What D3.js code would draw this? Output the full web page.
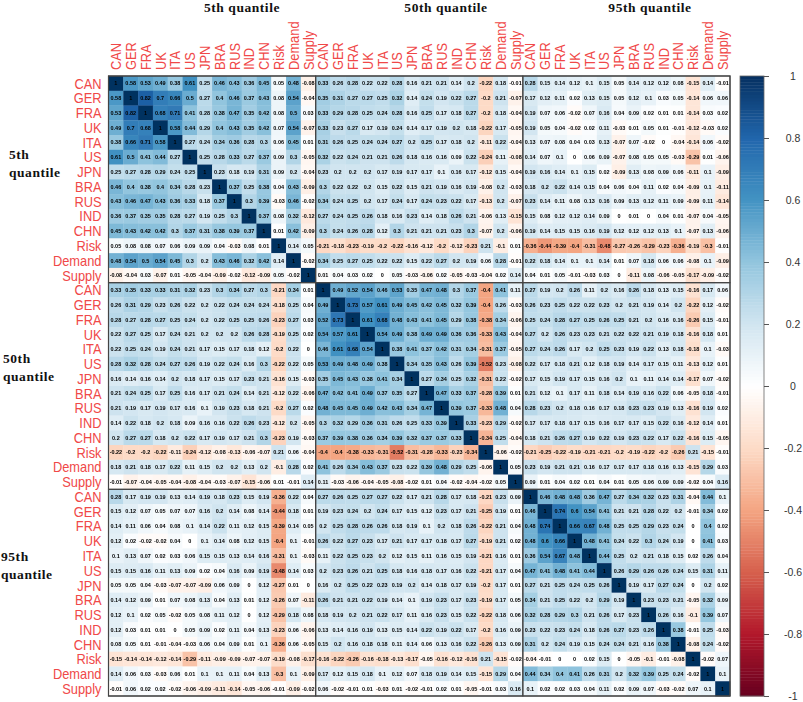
<!DOCTYPE html>
<html><head><meta charset="utf-8">
<script src="https://cdn.jsdelivr.net/npm/d3@7"></script>
<style>html,body{margin:0;padding:0;background:#fff}svg{display:block}</style>
</head><body><svg id="c" width="803" height="702"></svg>
<script>
const names=["CAN","GER","FRA","UK","ITA","US","JPN","BRA","RUS","IND","CHN","Risk","Demand","Supply"];
const quantiles=["5th","50th","95th"];
const legendTicks=[1,.8,.6,.4,.2,0,-.2,-.4,-.6,-.8,-1];
const paletteStops=["#67001F","#B2182B","#D6604D","#F4A582","#FDDBC7","#FFFFFF","#D1E5F0","#92C5DE","#4393C3","#2166AC","#053061"];
const b5_5=[
[1,.58,.53,.49,.38,.61,.25,.46,.43,.36,.45,.05,.48,-.08],
[.58,1,.82,.7,.66,.5,.27,.4,.46,.37,.43,.08,.54,-.04],
[.53,.82,1,.68,.71,.41,.28,.38,.47,.35,.42,.08,.5,.03],
[.49,.7,.68,1,.58,.44,.29,.4,.43,.35,.42,.07,.54,-.07],
[.38,.66,.71,.58,1,.27,.24,.34,.36,.28,.3,.06,.45,.01],
[.61,.5,.41,.44,.27,1,.25,.28,.33,.27,.37,.09,.3,-.05],
[.25,.27,.28,.29,.24,.25,1,.23,.18,.19,.31,.09,.2,-.04],
[.46,.4,.38,.4,.34,.28,.23,1,.37,.25,.38,.04,.43,-.09],
[.43,.46,.47,.43,.36,.33,.18,.37,1,.3,.39,-.03,.46,-.02],
[.36,.37,.35,.35,.28,.27,.19,.25,.3,1,.37,.08,.32,-.12],
[.45,.43,.42,.42,.3,.37,.31,.38,.39,.37,1,.01,.42,-.09],
[.05,.08,.08,.07,.06,.09,.09,.04,-.03,.08,.01,1,.14,.05],
[.48,.54,.5,.54,.45,.3,.2,.43,.46,.32,.42,.14,1,-.02],
[-.08,-.04,.03,-.07,.01,-.05,-.04,-.09,-.02,-.12,-.09,.05,-.02,1]];
const b5_50=[
[.33,.26,.28,.22,.22,.28,.16,.21,.21,.14,.2,-.22,.18,-.01],
[.35,.31,.27,.27,.25,.32,.14,.24,.19,.22,.27,-.2,.21,-.07],
[.33,.29,.28,.25,.24,.28,.16,.25,.17,.18,.27,-.2,.18,-.04],
[.33,.23,.27,.17,.19,.24,.14,.17,.19,.2,.18,-.22,.17,-.05],
[.31,.26,.25,.24,.24,.27,.2,.25,.17,.18,.2,-.11,.22,-.04],
[.32,.22,.24,.21,.21,.26,.18,.16,.16,.09,.22,-.24,.11,-.08],
[.23,.2,.2,.2,.17,.19,.17,.17,.1,.16,.17,-.12,.15,-.04],
[.3,.22,.22,.2,.15,.22,.15,.21,.19,.16,.19,-.08,.2,-.03],
[.34,.24,.25,.2,.17,.24,.17,.24,.23,.22,.17,-.13,.2,-.07],
[.27,.24,.25,.26,.18,.16,.23,.14,.18,.26,.21,-.06,.13,-.15],
[.3,.24,.26,.28,.12,.3,.21,.21,.21,.23,.3,-.07,.2,-.06],
[-.21,-.18,-.23,-.19,-.2,-.22,-.16,-.12,-.2,-.12,-.23,.21,-.1,.01],
[.34,.25,.27,.25,.22,.22,.15,.22,.27,.2,.19,.06,.28,-.01],
[.01,.04,.03,.02,0,.05,-.03,-.06,.02,-.05,-.03,-.04,.02,.14]];
const b5_95=[
[.28,.15,.14,.12,.1,.15,.05,.14,.12,.12,.08,-.15,.14,-.01],
[.17,.12,.11,.02,.13,.15,.05,.12,.1,.03,.05,-.14,.06,.06],
[.19,.07,.06,-.02,.07,.16,.04,.09,.02,.01,.01,-.14,.03,.02],
[.19,.05,.04,-.02,.02,.11,-.03,.01,.05,.01,-.01,-.12,-.03,.02],
[.13,.07,.08,.04,.03,.13,-.07,.07,-.02,0,-.04,-.14,.06,-.02],
[.14,.07,.1,0,.06,.09,-.07,.08,.05,.05,-.03,-.29,.01,-.06],
[.19,.16,.14,.1,.15,.02,-.09,.13,.08,.09,.06,-.11,.1,-.09],
[.18,.2,.22,.14,.15,.04,.06,.04,.11,.02,.04,-.09,.1,-.11],
[.23,.14,.11,.08,.13,.16,.09,.13,.12,.11,.09,-.09,.11,-.14],
[.15,.08,.12,.12,.14,.09,0,.01,0,.04,.01,-.07,.04,-.05],
[.19,.14,.15,.15,.16,.19,.12,.12,.12,.13,.1,-.07,.13,-.06],
[-.36,-.44,-.39,-.4,-.31,-.48,-.27,-.26,-.29,-.23,-.36,-.19,-.3,-.01],
[.22,.18,.14,.1,.1,.14,.01,.07,.18,.06,.06,-.08,.1,-.09],
[.04,.01,.05,-.01,-.03,.03,0,-.11,.08,-.06,-.05,-.17,-.09,-.02]];
const b50_50=[
[1,.49,.52,.54,.46,.53,.35,.47,.48,.3,.37,-.4,.41,.11],
[.49,1,.73,.57,.61,.49,.45,.42,.45,.32,.39,-.4,.26,-.03],
[.52,.73,1,.61,.68,.48,.43,.41,.45,.29,.38,-.38,.34,-.06],
[.54,.57,.61,1,.54,.49,.38,.49,.49,.36,.36,-.33,.43,-.04],
[.46,.61,.68,.54,1,.38,.41,.37,.42,.31,.34,-.31,.37,-.05],
[.53,.49,.48,.49,.38,1,.34,.35,.43,.26,.39,-.52,.23,-.08],
[.35,.45,.43,.38,.41,.34,1,.27,.34,.25,.32,-.31,.22,-.02],
[.47,.42,.41,.49,.37,.35,.27,1,.47,.33,.37,-.28,.39,.01],
[.48,.45,.45,.49,.42,.43,.34,.47,1,.39,.37,-.33,.48,.04],
[.3,.32,.29,.36,.31,.26,.25,.33,.39,1,.33,-.23,.29,-.02],
[.37,.39,.38,.36,.34,.39,.32,.37,.37,.33,1,-.34,.25,-.04],
[-.4,-.4,-.38,-.33,-.31,-.52,-.31,-.28,-.33,-.23,-.34,1,-.06,-.02],
[.41,.26,.34,.43,.37,.23,.22,.39,.48,.29,.25,-.06,1,.05],
[.11,-.03,-.06,-.04,-.05,-.08,-.02,.01,.04,-.02,-.04,-.02,.05,1]];
const b50_95=[
[.27,.19,.2,.26,.11,.2,.16,.26,.18,.13,.15,-.16,.17,.06],
[.26,.23,.25,.22,.22,.23,.2,.21,.19,.14,.2,-.22,.12,-.02],
[.25,.24,.28,.27,.25,.26,.25,.21,.2,.16,.16,-.26,.15,-.01],
[.27,.2,.26,.23,.23,.21,.22,.22,.21,.19,.18,-.16,.18,.01],
[.27,.24,.26,.17,.2,.25,.23,.19,.22,.13,.18,-.18,.1,-.03],
[.22,.17,.18,.21,.12,.18,.19,.14,.17,.15,.11,-.13,.12,.01],
[.17,.15,.19,.17,.15,.16,.2,.1,.11,.14,.14,-.17,.07,-.02],
[.21,.12,.1,.17,.11,.18,.14,.19,.16,.22,.06,-.05,.18,-.01],
[.28,.23,.2,.18,.16,.17,.18,.23,.23,.19,.13,-.16,.19,.02],
[.17,.17,.18,.17,.15,.16,.17,.17,.15,.22,.16,-.12,.14,.01],
[.18,.21,.26,.27,.19,.22,.19,.23,.22,.17,.22,-.16,.15,-.05],
[-.21,-.25,-.22,-.19,-.21,-.21,-.2,-.19,-.22,-.2,-.26,.21,-.15,-.01],
[.23,.19,.21,.21,.16,.17,.17,.17,.18,.16,.13,-.15,.29,.03],
[.09,.01,.04,.02,.01,.04,.01,.05,.06,.09,.09,-.02,.04,.16]];
const b95_95=[
[1,.46,.48,.48,.36,.47,.27,.34,.32,.23,.31,-.04,.44,.1],
[.46,1,.74,.6,.54,.41,.21,.21,.28,.22,.2,-.01,.34,.02],
[.48,.74,1,.66,.67,.48,.25,.25,.29,.23,.24,0,.4,.02],
[.48,.6,.66,1,.48,.41,.24,.22,.3,.24,.19,0,.41,.03],
[.36,.54,.67,.48,1,.44,.25,.2,.21,.18,.15,.02,.26,.04],
[.47,.41,.48,.41,.44,1,.26,.29,.26,.26,.24,.15,.31,.11],
[.27,.21,.25,.24,.25,.26,1,.19,.17,.27,.24,0,.2,.02],
[.34,.21,.25,.22,.2,.29,.19,1,.23,.23,.21,-.05,.32,.09],
[.32,.28,.29,.3,.21,.26,.17,.23,1,.26,.16,-.1,.39,.07],
[.23,.22,.23,.24,.18,.26,.27,.23,.26,1,.38,-.01,.25,-.03],
[.31,.2,.24,.19,.15,.24,.24,.21,.16,.38,1,-.08,.24,-.02],
[-.04,-.01,0,0,.02,.15,0,-.05,-.1,-.01,-.08,1,-.02,.07],
[.44,.34,.4,.41,.26,.31,.2,.32,.39,.25,.24,-.02,1,.1],
[.1,.02,.02,.03,.04,.11,.02,.09,.07,-.03,-.02,.07,.1,1]];

const t=d3.transpose;
const matrix=[
 ...b5_5.map((r,i)=>[...r,...b5_50[i],...b5_95[i]]),
 ...t(b5_50).map((r,i)=>[...r,...b50_50[i],...b50_95[i]]),
 ...t(b5_95).map((r,i)=>[...r,...t(b50_95)[i],...b95_95[i]])
];
const labels=[...names,...names,...names];
const idx=d3.range(labels.length);
const L=108.5,T=76,R=730,B=696;
const x=d3.scaleBand().domain(idx).range([L,R]);
const y=d3.scaleBand().domain(idx).range([T,B]);
const color=d3.scaleLinear().domain(d3.range(-1,1.0001,.2)).range(paletteStops).interpolate(d3.interpolateRgb);
const svg=d3.select("#c");
const defs=svg.append("defs");
[["soft",.7],["softText",.22]].forEach(([id,s])=>defs.append("filter").attr("id",id)
  .attr("filterUnits","userSpaceOnUse").attr("x",0).attr("y",0).attr("width",803).attr("height",702)
  .append("feGaussianBlur").attr("stdDeviation",s));
const sans='"Liberation Sans",Arial,sans-serif', serif='"Liberation Serif","Times New Roman",serif';
const cells=matrix.flatMap((r,i)=>r.map((v,j)=>({i,j,v})));
svg.append("g").attr("filter","url(#soft)").selectAll("rect").data(cells).join("rect")
 .attr("x",d=>x(d.j)).attr("y",d=>y(d.i)).attr("width",x.bandwidth()+.3).attr("height",y.bandwidth()+.3)
 .attr("fill",d=>color(d.v));
svg.append("g").attr("filter","url(#softText)").selectAll("text").data(cells).join("text")
 .attr("x",d=>x(d.j)+x.bandwidth()/2).attr("y",d=>y(d.i)+y.bandwidth()/2).attr("dy",".36em")
 .attr("text-anchor","middle").attr("font-family",sans).attr("font-weight","bold").attr("font-size",5.5)
 .attr("fill","#000").text(d=>String(d.v));
// row and column labels
svg.append("g").selectAll("text").data(idx).join("text")
 .attr("transform",d=>`translate(101.5,${y(d)+y.bandwidth()/2}) scale(.88,1)`).attr("dy",".36em")
 .attr("text-anchor","end").attr("font-family",sans).attr("font-size",14.6).attr("fill","#f04848").text(d=>labels[d]);
svg.append("g").selectAll("text").data(idx).join("text")
 .attr("transform",d=>`translate(${x(d)+x.bandwidth()/2},70) rotate(-90) scale(.88,1)`).attr("dy",".36em")
 .attr("text-anchor","start").attr("font-family",sans).attr("font-size",14.6).attr("fill","#f04848").text(d=>labels[d]);
// block frames
const blocks=d3.range(3);
svg.append("g").selectAll("rect").data(blocks).join("rect")
 .attr("x",d=>x(d*14)).attr("y",T).attr("width",x.bandwidth()*14).attr("height",B-T)
 .attr("fill","none").attr("stroke","#444").attr("stroke-width",1.1);
svg.append("g").selectAll("rect").data(blocks).join("rect")
 .attr("x",L).attr("y",d=>y(d*14)).attr("width",R-L).attr("height",y.bandwidth()*14)
 .attr("fill","none").attr("stroke","#444").attr("stroke-width",1.1);
// quantile titles
const topTitleX=[242,446,650], sideX=[9,3,1], sideY=[159,363,561];
svg.append("g").selectAll("text").data(blocks).join("text")
 .attr("x",d=>topTitleX[d]).attr("y",12).attr("text-anchor","middle").attr("font-family",serif)
 .attr("font-weight","bold").attr("font-size",13.5).attr("letter-spacing",.55).attr("fill","#111").text(d=>quantiles[d]+" quantile");
const side=svg.append("g").attr("font-family",serif).attr("font-weight","bold").attr("font-size",13.5).attr("letter-spacing",.55).attr("fill","#111");
side.selectAll(".a").data(blocks).join("text").attr("class","a").attr("x",d=>sideX[d]).attr("y",d=>sideY[d]).text(d=>quantiles[d]);
side.selectAll(".b").data(blocks).join("text").attr("class","b").attr("x",d=>sideX[d]).attr("y",d=>sideY[d]+18).text("quantile");
// colour legend
const ly=d3.scaleLinear().domain([1,-1]).range([T,B]);
const legendSteps=d3.range(-1,1,.01);
const lg=svg.append("g");
lg.selectAll("rect").data(legendSteps).join("rect")
 .attr("x",740).attr("width",24).attr("y",d=>ly(d+.01)).attr("height",d=>ly(d)-ly(d+.01)+.4).attr("fill",d=>color(d+.005));
lg.append("rect").attr("x",740).attr("y",T).attr("width",24).attr("height",B-T).attr("fill","none").attr("stroke","#666").attr("stroke-width",.8);
const ax=lg.append("g").attr("transform","translate(764,0)").call(d3.axisRight(ly).tickValues(legendTicks).tickSize(5).tickFormat(d=>String(d)));
ax.select(".domain").remove();
ax.selectAll("line").attr("stroke","#555");
ax.selectAll("text").attr("x",29).attr("text-anchor","middle").attr("font-family",sans).attr("font-size",10.5).attr("fill","#333");
</script></body></html>
